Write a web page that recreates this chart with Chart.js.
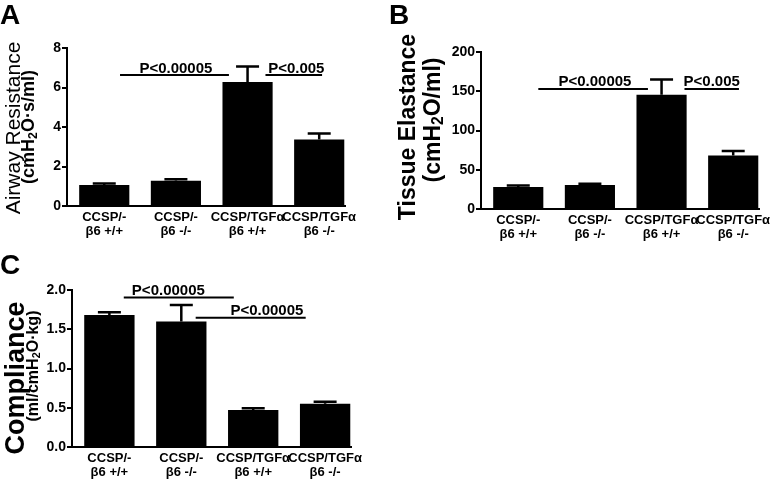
<!DOCTYPE html>
<html>
<head>
<meta charset="utf-8">
<script src="https://cdn.jsdelivr.net/npm/chart.js@4.4.1/dist/chart.umd.min.js"></script>
<style>
  html, body { margin: 0; padding: 0; background: #fff; }
  #wrap { position: relative; width: 778px; height: 485px; overflow: hidden;
          font-family: "Liberation Sans", Arial, Helvetica, sans-serif; color: #000; }
  canvas { position: absolute; }
  .lbl { position: absolute; white-space: nowrap; line-height: 1; }
  .rot { transform: translate(-50%, -50%) rotate(-90deg); }
  .letter { font-weight: bold; font-size: 28px; }
  sub { font-size: 0.68em; vertical-align: -0.22em; line-height: 0; }
</style>
</head>
<body>
<div id="wrap">
  <canvas id="chartA" width="390" height="250" style="left:0;top:0;width:390px;height:250px"></canvas>
  <canvas id="chartB" width="388" height="250" style="left:390px;top:0;width:388px;height:250px"></canvas>
  <canvas id="chartC" width="390" height="235" style="left:0;top:250px;width:390px;height:235px"></canvas>

  <div class="lbl letter" style="left:0;top:1px">A</div>
  <div class="lbl letter" style="left:389px;top:1px">B</div>
  <div class="lbl letter" style="left:0;top:251px">C</div>

  <div class="lbl rot" style="left:12px;top:128px;font-size:21px">Airway Resistance</div>
  <div class="lbl rot" style="left:28px;top:127px;font-size:18px;font-weight:bold">(cmH<sub>2</sub>O·s/ml)</div>

  <div class="lbl rot" style="left:407px;top:127px;font-size:23px;font-weight:bold">Tissue Elastance</div>
  <div class="lbl rot" style="left:432px;top:120px;font-size:23px;font-weight:bold">(cmH<sub>2</sub>O/ml)</div>

  <div class="lbl rot" style="left:15px;top:378px;font-size:27px;font-weight:bold">Compliance</div>
  <div class="lbl rot" style="left:33px;top:366px;font-size:16px;font-weight:bold">(ml/cmH<sub>2</sub>O·kg)</div>
</div>

<script>
// groups (x axis, two lines each)
const groups = [
  ['CCSP/-', 'β6 +/+'],
  ['CCSP/-', 'β6 -/-'],
  ['CCSP/TGFα', 'β6 +/+'],
  ['CCSP/TGFα', 'β6 -/-']
];

// A - airway resistance
const resistance = [1.06, 1.28, 6.28, 3.37];
const resistanceSem = [0.08, 0.07, 0.78, 0.30];
const resistanceTicks = [0, 2, 4, 6, 8];
const resistanceSig = [
  { from: 0.22, to: 1.74, y: 6.63, at: 1.0, text: 'P<0.00005' },
  { from: 2.25, to: 3.04, y: 6.63, at: 2.68, text: 'P<0.005' }
];

// B - tissue elastance
const elastance = [28, 30.5, 145.5, 68];
const elastanceSem = [2, 1.8, 19.5, 6];
const elastanceTicks = [0, 50, 100, 150, 200];
const elastanceSig = [
  { from: 0.28, to: 1.81, y: 153, at: 1.07, text: 'P<0.00005' },
  { from: 2.32, to: 3.08, y: 153, at: 2.70, text: 'P<0.005' }
];

// C - compliance
const compliance = [1.68, 1.60, 0.47, 0.55];
const complianceSem = [0.035, 0.21, 0.025, 0.025];
const complianceTicks = [0, 0.5, 1.0, 1.5, 2.0];
const complianceSig = [
  { from: 0.20, to: 1.73, y: 1.905, at: 0.82, text: 'P<0.00005' },
  { from: 1.20, to: 2.73, y: 1.645, at: 2.19, text: 'P<0.00005' }
];

const FONT = '"Liberation Sans", Arial, Helvetica, sans-serif';
Chart.defaults.font.family = FONT;
Chart.defaults.color = '#000';

// error bars (SEM, upward only) + significance brackets
const marksPlugin = (values, sem, sig) => ({
  id: 'marks',
  afterDatasetsDraw(chart) {
    const { ctx, scales: { x, y } } = chart;
    ctx.save();
    ctx.strokeStyle = '#000';
    ctx.lineWidth = 2.5;
    values.forEach((v, i) => {
      const px = x.getPixelForValue(i);
      const y0 = y.getPixelForValue(v);
      const y1 = y.getPixelForValue(v + sem[i]);
      ctx.beginPath();
      ctx.moveTo(px, y0); ctx.lineTo(px, y1);
      ctx.moveTo(px - 11.5, y1); ctx.lineTo(px + 11.5, y1);
      ctx.stroke();
    });
    ctx.lineWidth = 2;
    ctx.fillStyle = '#000';
    ctx.font = 'bold 15px ' + FONT;
    ctx.textAlign = 'center';
    ctx.textBaseline = 'alphabetic';
    sig.forEach(s => {
      const py = y.getPixelForValue(s.y);
      ctx.beginPath();
      ctx.moveTo(x.getPixelForValue(s.from), py);
      ctx.lineTo(x.getPixelForValue(s.to), py);
      ctx.stroke();
      ctx.fillText(s.text, x.getPixelForValue(s.at), py - 2.5);
    });
    ctx.restore();
  }
});

const panel = (id, values, sem, ticks, sig, fmt, box) => {
  new Chart(document.getElementById(id), {
    type: 'bar',
    data: {
      datasets: [{
        data: values.map((v, i) => ({ x: i, y: v })),
        backgroundColor: '#000',
        borderWidth: 0,
        categoryPercentage: 1,
        barPercentage: 0.7
      }]
    },
    options: {
      responsive: false,
      animation: false,
      layout: { padding: { left: 0, top: box.top, right: box.right, bottom: 0 } },
      plugins: { legend: { display: false }, tooltip: { enabled: false } },
      scales: {
        x: {
          type: 'linear',
          offset: false,
          min: -0.52, max: 3.36,
          afterBuildTicks: s => { s.ticks = groups.map((_, i) => ({ value: i })); },
          afterFit: s => { s.height = box.xh; },
          grid: { display: false, drawTicks: false, offset: false },
          border: { display: true, color: '#000', width: 2 },
          ticks: {
            autoSkip: false, maxRotation: 0, minRotation: 0, padding: 4,
            font: { size: 13, weight: 'bold', lineHeight: 1.08 },
            callback: v => groups[v]
          }
        },
        y: {
          min: ticks[0], max: ticks[ticks.length - 1],
          afterBuildTicks: s => { s.ticks = ticks.map(v => ({ value: v })); },
          afterFit: s => { s.width = box.yw; },
          grid: { display: true, drawOnChartArea: false, drawTicks: true, tickLength: 5, color: '#000', lineWidth: 2 },
          border: { display: true, color: '#000', width: 2 },
          ticks: { padding: 1, font: { size: 14, weight: 'bold' }, callback: v => fmt(v) }
        }
      }
    },
    plugins: [marksPlugin(values, sem, sig)]
  });
};

panel('chartA', resistance, resistanceSem, resistanceTicks, resistanceSig, v => String(v),
  { top: 48, right: 45, yw: 67, xh: 44 });
panel('chartB', elastance, elastanceSem, elastanceTicks, elastanceSig, v => String(v),
  { top: 52, right: 19, yw: 91, xh: 41 });
panel('chartC', compliance, complianceSem, complianceTicks, complianceSig, v => v.toFixed(1),
  { top: 40, right: 39, yw: 72, xh: 38 });
</script>
</body>
</html>
